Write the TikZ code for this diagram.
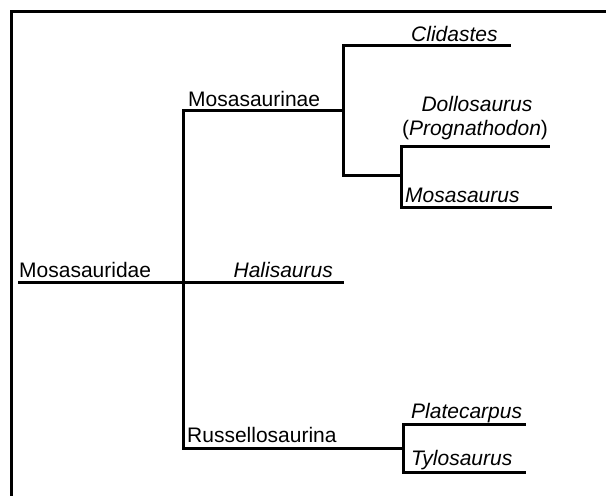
\documentclass[tikz,border=0pt]{standalone}
\usepackage{fontspec}
\setmainfont{Liberation Sans}
\usepackage{tikz}
\usetikzlibrary{positioning}

\begin{document}
\begin{tikzpicture}[x=1pt, y=-1pt,
			branch/.style={line width=3pt, line cap=rect},
			clade/.style={inner sep=0pt, anchor=base west, font=\fontsize{21}{25}\selectfont},
			genus/.style={clade, font=\fontsize{21}{25}\selectfont\itshape}
		]
		\useasboundingbox (0,0) rectangle (606,496);
		% Frame
		\draw[line width=3pt] (11,496) -- (11,11) -- (606,11);

		% Junctions
		\coordinate (root) at (19,282);
		\coordinate (base) at (183,282);
		\coordinate (mosa) at (183,110);
		\coordinate (russ) at (183,448);
		\coordinate (mosaknot) at (343,110);
		\coordinate (clidknot) at (343,45);
		\coordinate (lowknot) at (343,175);
		\coordinate (dmknot) at (401,175);
		\coordinate (dollknot) at (401,146);
		\coordinate (mosasknot) at (401,207);
		\coordinate (russknot) at (403,448);
		\coordinate (platknot) at (403,424);
		\coordinate (tyloknot) at (403,472);
		\coordinate (hali) at (342,282);
		\coordinate (clid) at (509,45);
		\coordinate (doll) at (548,146);
		\coordinate (mosas) at (550,207);
		\coordinate (plat) at (524,424);
		\coordinate (tylo) at (524,472);

		% Labels
		\node[clade] (mosasauridae) at (19,277) {Mosasauridae};
		\node[genus, anchor=base east] (halisaurus) at (333,277) {Halisaurus};
		\node[clade] (mosasaurinae) at (188,106) {Mosasaurinae};
		\node[genus] (clidastes) at (411,41) {Clidastes};
		\node[genus, anchor=base] (dollosaurus) at (477,111) {Dollosaurus};
		\node[clade, anchor=base] (prognathodon) at (475,135) {(\textit{Prognathodon})};
		\node[genus] (mosasaurus) at (405,202) {Mosasaurus};
		\node[clade] (russellosaurina) at (187,442) {Russellosaurina};
		\node[genus] (platecarpus) at (411,418) {Platecarpus};
		\node[genus] (tylosaurus) at (411,465) {Tylosaurus};

		% Branches
		\draw[branch] (root) -- (base) -- (hali);
		\draw[branch] (russ) -- (mosa);
		\draw[branch] (mosa) -- (mosaknot);
		\draw[branch] (lowknot) -- (clidknot) -- (clid);
		\draw[branch] (lowknot) -- (dmknot);
		\draw[branch] (mosasknot) -- (dollknot) -- (doll);
		\draw[branch] (mosasknot) -- (mosas);
		\draw[branch] (russ) -- (russknot);
		\draw[branch] (tyloknot) -- (platknot) -- (plat);
		\draw[branch] (tyloknot) -- (tylo);
	\end{tikzpicture}
\end{document}
